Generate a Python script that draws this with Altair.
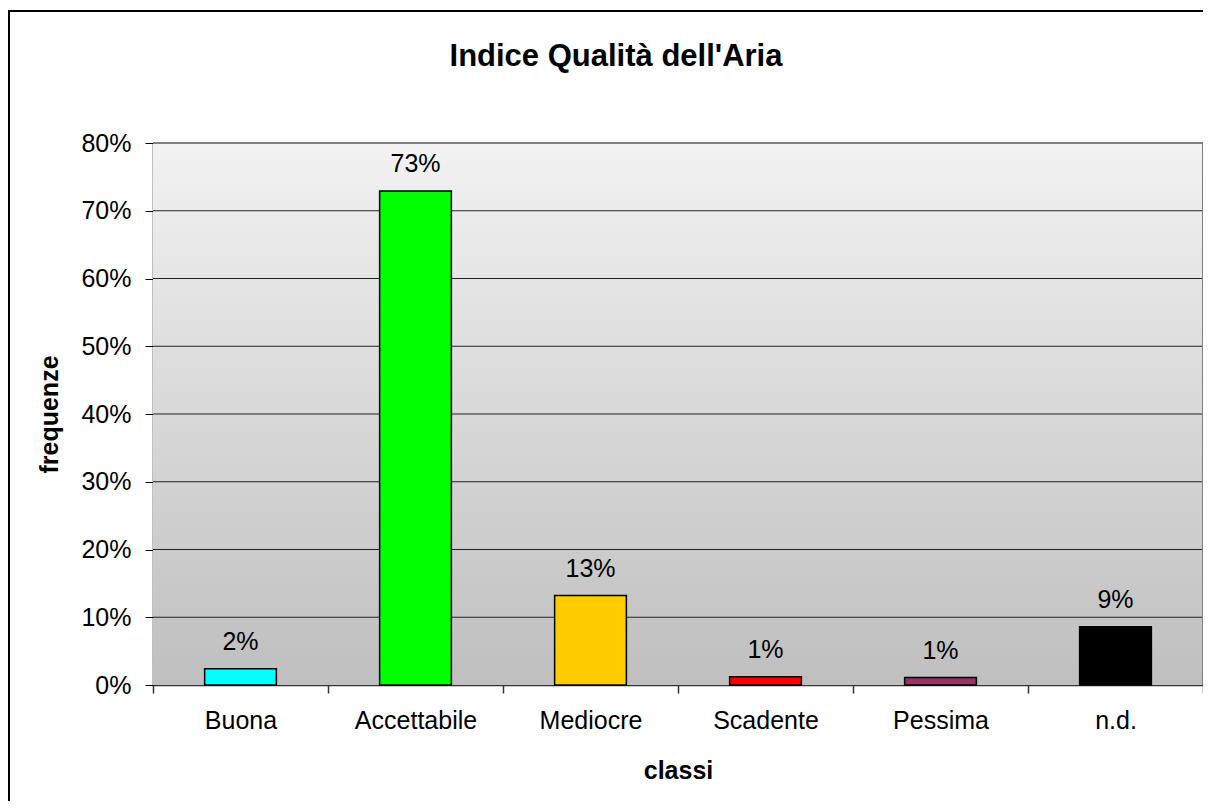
import altair as alt
import pandas as pd

CATEGORIES = ["Buona", "Accettabile", "Mediocre", "Scadente", "Pessima", "n.d."]
VALUES = [0.024, 0.729, 0.132, 0.012, 0.011, 0.086]
COLORS = ["#00FFFF", "#00FF00", "#FFCC00", "#FF0000", "#993366", "#000000"]
Y_TICKS = [0.0, 0.1, 0.2, 0.3, 0.4, 0.5, 0.6, 0.7, 0.8]
GRID_LINES = [0.1, 0.2, 0.3, 0.4, 0.5, 0.6, 0.7]
TITLE = "Indice Qualità dell'Aria"

FONT = "Liberation Sans, Arial, sans-serif"
W, H = 1050, 542

df = pd.DataFrame({"classe": CATEGORIES, "freq": VALUES})
grid_df = pd.DataFrame({"freq": GRID_LINES})
one = pd.DataFrame({"a": [0]})

y_scale = alt.Scale(domain=[0, 0.8], nice=False)
x_scale = alt.Scale(domain=CATEGORIES, paddingInner=0, paddingOuter=0)

x_axis = alt.Axis(
    title="classi",
    labelAngle=0,
    tickBand="extent",
    tickSize=8,
    tickColor="#333333",
    tickWidth=1.5,
    domainColor="#333333",
    domainWidth=1.5,
    labelFontSize=25,
    labelColor="black",
    labelPadding=15,
    titleFontSize=25,
    titleFontWeight="bold",
    titleColor="black",
    titlePadding=25,
    grid=False,
)

y_axis = alt.Axis(
    title="frequenze",
    format=".0%",
    values=Y_TICKS,
    tickSize=8,
    tickColor="black",
    domainColor="black",
    domainWidth=1.5,
    labelFontSize=25,
    labelColor="black",
    labelPadding=14,
    titleFontSize=25,
    titleFontWeight="bold",
    titleColor="black",
    titlePadding=18,
    grid=False,
)

background = alt.Chart(one).mark_rect(
    color=alt.LinearGradient(
        gradient="linear",
        stops=[
            alt.GradientStop(color="#f2f2f2", offset=0),
            alt.GradientStop(color="#bfbfbf", offset=1),
        ],
        x1=0, x2=0, y1=0, y2=1,
    )
).encode(x=alt.value(0), x2=alt.value(W), y=alt.value(0), y2=alt.value(H))

grid = alt.Chart(grid_df).mark_rule(color="#222222", strokeWidth=1).encode(
    y=alt.Y("freq:Q", scale=y_scale, axis=y_axis),
    x=alt.value(0),
    x2=alt.value(W),
)

top_border = alt.Chart(one).mark_rule(color="#808080", strokeWidth=2).encode(
    x=alt.value(0), x2=alt.value(W), y=alt.value(0)
)
right_border = alt.Chart(one).mark_rule(color="#808080", strokeWidth=2).encode(
    x=alt.value(W), y=alt.value(0), y2=alt.value(H)
)

outer = alt.Chart(one).mark_rect(filled=False, stroke="black", strokeWidth=2).encode(
    x=alt.value(-144), x2=alt.value(W + 60), y=alt.value(-132), y2=alt.value(H + 200)
)

title_mark = alt.Chart(one).mark_text(
    fontSize=31, fontWeight="bold", font=FONT, color="black",
    align="center", baseline="alphabetic",
).encode(x=alt.value(463), y=alt.value(-77), text=alt.value(TITLE))

bars = alt.Chart(df).mark_bar(
    stroke="black", strokeWidth=1.5, width=alt.RelativeBandSize(0.41)
).encode(
    x=alt.X("classe:N", sort=CATEGORIES, scale=x_scale, axis=x_axis),
    y=alt.Y("freq:Q", scale=y_scale, axis=y_axis),
    color=alt.Color("classe:N", scale=alt.Scale(domain=CATEGORIES, range=COLORS), legend=None),
)

labels = alt.Chart(df).mark_text(
    dy=-19, baseline="alphabetic", fontSize=25, font=FONT, color="black"
).encode(
    x=alt.X("classe:N", sort=CATEGORIES, scale=x_scale, axis=x_axis),
    y=alt.Y("freq:Q", scale=y_scale, axis=y_axis),
    text=alt.Text("freq:Q", format=".0%"),
)

chart = (
    alt.layer(background, grid, top_border, right_border, bars, labels, outer, title_mark)
    .properties(
        width=W,
        height=H,
        autosize=alt.AutoSizeParams(type="none"),
        padding={"left": 145, "top": 135, "right": 0, "bottom": 116},
    )
    .configure(font=FONT, background="white")
    .configure_view(stroke=None)
    .configure_axis(labelFont=FONT, titleFont=FONT)
)

chart.save("out.html", embed_options={"renderer": "svg", "actions": False})
